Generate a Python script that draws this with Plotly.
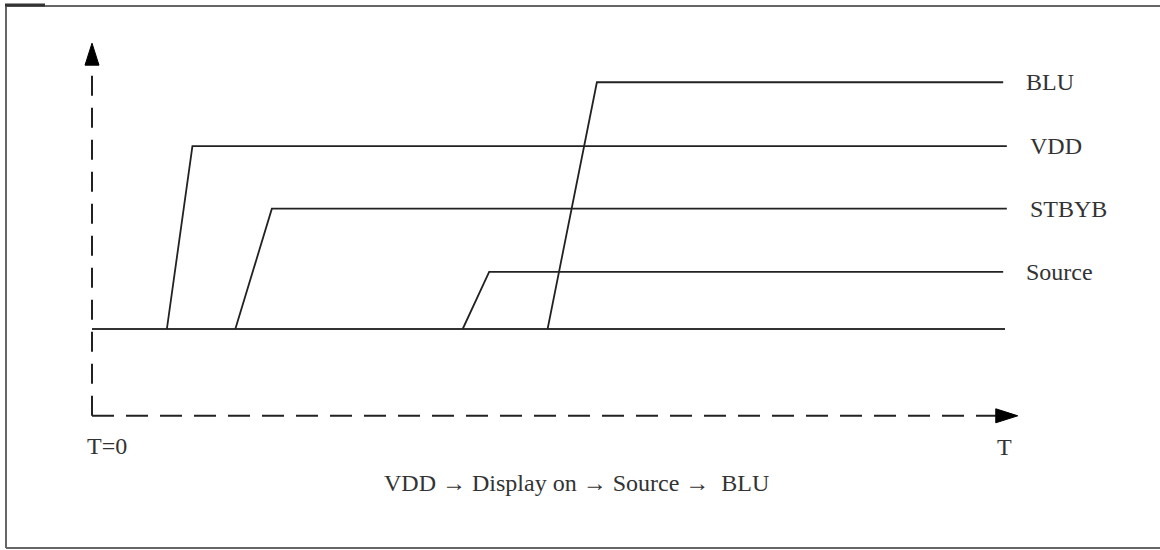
import plotly.graph_objects as go

# ---- data (time units, level units) ----
signals = ["BLU", "VDD", "STBYB", "Source"]
rise_start = [4.99, 0.82, 1.57, 4.06]
rise_end = [5.53, 1.10, 1.97, 4.35]
levels = [3.98, 2.95, 1.94, 0.92]
line_end = [9.98, 10.02, 10.02, 9.98]
t_end = 10.0
axis_level = -1.40
caption = "VDD \u2192 Display on \u2192 Source \u2192  BLU"
x_labels = ["T=0", "T"]

# ---- layout constants ----
W, H = 1160, 550
PX_T = 91.3             # px per time unit
PX_L = 62.0             # px per level unit
X0_PX, Y0_PX = 92, 329
xr = [-X0_PX / PX_T, (W - X0_PX) / PX_T]
yr = [(Y0_PX - H) / PX_L, Y0_PX / PX_L]
FONT = "Liberation Serif"
FS = 24
INK = "#222222"
TXT = "#333333"


def tx(px):  # reference px -> time
    return (px - X0_PX) / PX_T


def ly(py):  # reference px -> level
    return (Y0_PX - py) / PX_L


fig = go.Figure()

# baseline
fig.add_trace(go.Scatter(x=[0, t_end], y=[0, 0], mode="lines",
                         line=dict(color="#333333", width=2), hoverinfo="skip", showlegend=False))
# signals
for name, s, e, lv, le in zip(signals, rise_start, rise_end, levels, line_end):
    fig.add_trace(go.Scatter(x=[s, e, le], y=[0, lv, lv], mode="lines", name=name,
                             line=dict(color=INK, width=1.8), showlegend=False))
    fig.add_annotation(x=le + 21 / PX_T, y=lv, text=name, showarrow=False, xanchor="left",
                       yanchor="middle", font=dict(family=FONT, size=FS, color=TXT))

# dashed axes
v_tip = 4.61
h_tip = 10.14
arrow_len_v = 22 / PX_L
arrow_len_h = 22 / PX_T
fig.add_trace(go.Scatter(x=[0, 0], y=[axis_level, v_tip - arrow_len_v], mode="lines",
                         line=dict(color=INK, width=2, dash="20px,12px"), hoverinfo="skip", showlegend=False))
fig.add_trace(go.Scatter(x=[0, h_tip - arrow_len_h], y=[axis_level, axis_level], mode="lines",
                         line=dict(color=INK, width=2, dash="22px,12px"), hoverinfo="skip", showlegend=False))

# arrowheads
hw_v = 7 / PX_T
fig.add_shape(type="path",
              path=f"M {-hw_v} {v_tip - arrow_len_v} L 0 {v_tip} L {hw_v} {v_tip - arrow_len_v} Z",
              fillcolor="black", line=dict(color="black", width=1))
hw_h = 7 / PX_L
fig.add_shape(type="path",
              path=f"M {h_tip - arrow_len_h} {axis_level - hw_h} L {h_tip} {axis_level} L {h_tip - arrow_len_h} {axis_level + hw_h} Z",
              fillcolor="black", line=dict(color="black", width=1))

# axis labels
fig.add_annotation(x=tx(107), y=ly(446), text=x_labels[0], showarrow=False,
                   font=dict(family=FONT, size=FS, color=TXT))
fig.add_annotation(x=tx(1004), y=ly(447), text=x_labels[1], showarrow=False,
                   font=dict(family=FONT, size=FS, color=TXT))
fig.add_annotation(x=tx(576), y=ly(483), text=caption, showarrow=False,
                   font=dict(family=FONT, size=FS, color=TXT))

# border (open on the right, as in the reference)
border = dict(color="#666666", width=2)
fig.add_shape(type="line", xref="paper", yref="paper",
              x0=6 / W, x1=1, y0=1 - 6 / H, y1=1 - 6 / H, line=border)
fig.add_shape(type="line", xref="paper", yref="paper",
              x0=6 / W, x1=6 / W, y0=1 - 6 / H, y1=1 - 548 / H, line=border)
fig.add_shape(type="line", xref="paper", yref="paper",
              x0=6 / W, x1=1, y0=1 - 548 / H, y1=1 - 548 / H, line=border)
fig.add_shape(type="line", xref="paper", yref="paper",
              x0=5 / W, x1=45 / W, y0=1 - 5 / H, y1=1 - 5 / H,
              line=dict(color="#333333", width=3))

fig.update_layout(width=W, height=H, margin=dict(l=0, r=0, t=0, b=0),
                  paper_bgcolor="white", plot_bgcolor="white",
                  xaxis=dict(range=xr, visible=False, fixedrange=True),
                  yaxis=dict(range=yr, visible=False, fixedrange=True))

fig.write_html("out.html", config={"displayModeBar": False},
               post_script="document.body.style.margin='0px';")
